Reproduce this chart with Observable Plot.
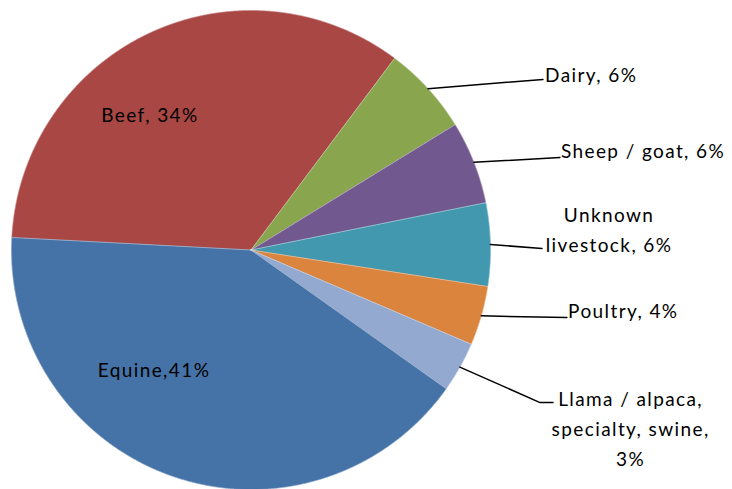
<!DOCTYPE html>
<html>
<head>
<meta charset="utf-8">
<script src="https://cdn.jsdelivr.net/npm/d3@7"></script>
<script src="https://cdn.jsdelivr.net/npm/@observablehq/plot@0.6"></script>
<style>
  html, body { margin: 0; padding: 0; background: #fff; }
</style>
</head>
<body>
<div id="chart"></div>
<script>
// ---- data ----
const categories = ["Beef", "Dairy", "Sheep / goat", "Unknown livestock", "Poultry", "Llama / alpaca, specialty, swine", "Equine"];
const shares = [34.4, 6.0, 5.6, 5.6, 4.0, 3.4, 41.0];
const labelTexts = ["Beef, 34%", "Dairy, 6%", "Sheep / goat, 6%", "Unknown\nlivestock, 6%", "Poultry, 4%", "Llama / alpaca,\nspecialty, swine,\n3%", "Equine,41%"];
const colors = ["#A94745", "#89A54E", "#71588F", "#4198AF", "#DB843D", "#93A9CF", "#4572A7"];
const firstSliceAngle = -87; // degrees, clockwise from 12 o'clock

// label placement (in chart data units, pie radius = 1)
const labelLayout = [
  {category: "Beef", x: -0.422, y: 0.574, anchor: "middle", leader: null},
  {category: "Dairy", x: 1.228, y: 0.741, anchor: "start", leader: [[1.219, 0.712]]},
  {category: "Sheep / goat", x: 1.294, y: 0.424, anchor: "start", leader: [[1.290, 0.386]]},
  {category: "Unknown livestock", x: 1.495, y: 0.096, anchor: "middle", leader: [[1.215, 0.006]]},
  {category: "Poultry", x: 1.324, y: -0.244, anchor: "start", leader: [[1.319, -0.282]]},
  {category: "Llama / alpaca, specialty, swine", x: 1.585, y: -0.737, anchor: "middle", leader: [[1.207, -0.637], [1.261, -0.637]]},
  {category: "Equine", x: -0.405, y: -0.491, anchor: "middle", leader: null}
];

// ---- build slices ----
const rad = d => d * Math.PI / 180;
const pieData = categories.map((c, i) => ({category: c, value: shares[i], label: labelTexts[i]}));
const arcs = d3.pie().sort(null).value(d => d.value)
  .startAngle(rad(firstSliceAngle)).endAngle(rad(firstSliceAngle + 360))(pieData);

const slicePoints = [];
for (const a of arcs) {
  const c = a.data.category;
  slicePoints.push({category: c, x: 0, y: 0});
  const n = Math.max(2, Math.ceil((a.endAngle - a.startAngle) / 0.004));
  for (let k = 0; k <= n; k++) {
    const t = a.startAngle + (a.endAngle - a.startAngle) * k / n;
    slicePoints.push({category: c, x: Math.sin(t), y: Math.cos(t)});
  }
  slicePoints.push({category: c, x: 0, y: 0});
}

const midAngle = Object.fromEntries(arcs.map(a => [a.data.category, (a.startAngle + a.endAngle) / 2]));
const labelText = Object.fromEntries(pieData.map(d => [d.category, d.label]));

const leaderPoints = [];
for (const L of labelLayout) {
  if (!L.leader) continue;
  const m = midAngle[L.category];
  leaderPoints.push({category: L.category, x: Math.sin(m), y: Math.cos(m)});
  for (const [x, y] of L.leader) leaderPoints.push({category: L.category, x, y});
}

const labels = labelLayout.map(L => ({...L, text: labelText[L.category]}));

const chart = Plot.plot({
  width: 732,
  height: 489,
  marginLeft: 11,
  marginRight: 242,
  marginTop: 10,
  marginBottom: 0,
  x: {domain: [-1, 1], axis: null},
  y: {domain: [-1, 1], axis: null},
  color: {domain: categories, range: colors},
  style: {fontFamily: "Lato, 'Open Sans', sans-serif", fontSize: "19px", letterSpacing: "1.4px", background: "white", color: "black"},
  marks: [
    Plot.line(slicePoints, {x: "x", y: "y", z: "category", fill: "category", stroke: "category", strokeWidth: 0.5, curve: "linear"}),
    Plot.line(slicePoints, {x: "x", y: "y", z: "category", stroke: "white", strokeOpacity: 0.35, strokeWidth: 0.6, curve: "linear"}),
    Plot.line(leaderPoints, {x: "x", y: "y", z: "category", stroke: "black", strokeWidth: 1.5}),
    Plot.text(labels.filter(d => d.anchor === "start"), {x: "x", y: "y", text: "text", textAnchor: "start", fontSize: 19, fill: "black", lineHeight: 1.55}),
    Plot.text(labels.filter(d => d.anchor === "middle"), {x: "x", y: "y", text: "text", textAnchor: "middle", fontSize: 19, fill: "black", lineHeight: 1.58})
  ]
});
document.getElementById("chart").appendChild(chart);
</script>
</body>
</html>
